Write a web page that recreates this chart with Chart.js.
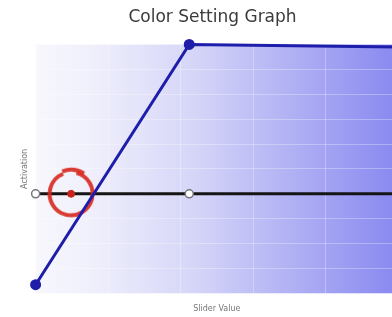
<!DOCTYPE html>
<html>
<head>
<meta charset="utf-8">
<script src="https://cdn.jsdelivr.net/npm/chart.js@4"></script>
<style>
  html, body { margin: 0; padding: 0; background: #fff; overflow: hidden; }
</style>
</head>
<body>
<canvas id="colorChart" width="405" height="317"></canvas>
<script>
// slider positions and activation values
const sliderX = [0, 42.4, 100];
const blueActivation = [-0.93, 1, 0.98];
const blackActivation = [-0.2, -0.2, -0.2];
const markerX = [9.8];
const markerY = [-0.2];

(() => {
  const ctx = document.querySelector("#colorChart");

  // ring with a small break at the top, like the reference marker
  const ring = document.createElement("canvas");
  ring.width = 56;
  ring.height = 56;
  const rc = ring.getContext("2d");
  rc.strokeStyle = "rgba(215, 40, 30, 0.9)";
  rc.lineWidth = 4;
  rc.beginPath();
  rc.arc(28, 28, 21.5, -0.42 * Math.PI, 1.38 * Math.PI);
  rc.stroke();
  rc.beginPath();
  rc.arc(28, 28, 24, -0.62 * Math.PI, -0.32 * Math.PI);
  rc.stroke();

  const bgPlugin = {
    id: "bgGradient",
    beforeDraw(chart) {
      const { ctx, chartArea: a } = chart;
      const g = ctx.createLinearGradient(a.left, 0, a.right, 0);
      g.addColorStop(0, "#f7f7fd");
      g.addColorStop(0.15, "#f0f0fc");
      g.addColorStop(0.45, "#d4d4f8");
      g.addColorStop(1, "#8888f0");
      ctx.save();
      ctx.fillStyle = g;
      ctx.fillRect(a.left, a.top, a.right - a.left, a.bottom - a.top);
      ctx.restore();
    },
  };

  new Chart(ctx, {
    type: "scatter",
    data: {
      datasets: [
        {
          data: sliderX.map((x, i) => ({ x, y: blueActivation[i] })),
          showLine: true,
          clip: false,
          borderColor: "#1e1eaa",
          backgroundColor: "#1e1eaa",
          borderWidth: 3,
          pointRadius: [4, 4, 0],
          order: 0,
        },
        {
          data: markerX.map((x, i) => ({ x, y: markerY[i] })),
          pointStyle: ring,
          borderColor: "transparent",
          clip: false,
          order: 1,
        },
        {
          data: markerX.map((x, i) => ({ x, y: markerY[i] })),
          pointRadius: 3.5,
          backgroundColor: "#c8241c",
          borderColor: "#c8241c",
          order: 1,
        },
        {
          data: sliderX.map((x, i) => ({ x, y: blackActivation[i] })),
          showLine: true,
          clip: false,
          borderColor: "#151515",
          borderWidth: 3,
          backgroundColor: "#ffffff",
          pointBorderColor: "#777777",
          pointBorderWidth: 1.5,
          pointRadius: [4, 4, 0],
          order: 2,
        },
      ],
    },
    options: {
      responsive: false,
      animation: false,
      layout: { padding: { top: 0, right: 0, bottom: 3, left: 20 } },
      plugins: {
        legend: { display: false },
        tooltip: { enabled: false },
        title: {
          display: true,
          text: "Color Setting Graph",
          color: "#3a3a3a",
          font: { family: "DejaVu Sans", size: 17, weight: "normal" },
          padding: { top: 7, bottom: 17 },
        },
      },
      scales: {
        x: {
          type: "linear",
          min: 0,
          max: 100,
          border: { display: false },
          grid: { color: "rgba(255,255,255,0.3)", drawTicks: false },
          ticks: { display: false },
          title: {
            display: true,
            text: "Slider Value",
            color: "#777",
            font: { family: "DejaVu Sans", size: 8 },
            padding: { top: 11, bottom: 0 },
          },
        },
        y: {
          min: -1,
          max: 1,
          border: { display: false },
          grid: { color: "rgba(255,255,255,0.3)", drawTicks: false },
          ticks: { display: false, stepSize: 0.2 },
          title: {
            display: true,
            text: "Activation",
            color: "#777",
            font: { family: "DejaVu Sans", size: 8 },
            padding: { top: 0, bottom: 6 },
          },
        },
      },
    },
    plugins: [bgPlugin],
  });
})();
</script>
</body>
</html>
